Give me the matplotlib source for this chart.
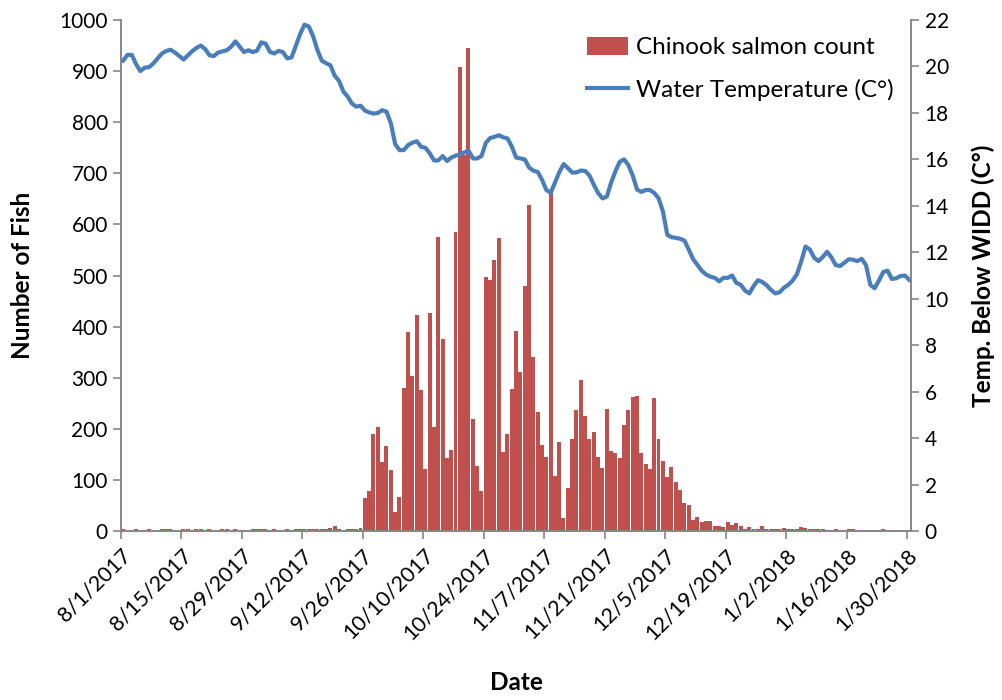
import matplotlib
matplotlib.use("Agg")
import matplotlib.pyplot as plt
import numpy as np

plt.rcParams['font.family'] = ['Lato', 'DejaVu Sans']

# daily counts, 8/1/2017 .. 1/30/2018
fish_count = [
    3, 0, 0, 3, 0, 0, 3, 0, 0, 3, 3, 3, 0, 0, 3, 3, 0, 3, 3, 0,
    3, 0, 0, 3, 3, 0, 3, 0, 0, 0, 3, 3, 3, 3, 0, 3, 0, 0, 3, 0,
    3, 3, 3, 3, 3, 3, 3, 4, 5, 10, 4, 0, 4, 4, 3, 6,
    65, 78, 190, 203, 136, 166, 119, 38, 67, 280, 389, 303, 423, 276,
    121, 427, 203, 575, 376, 142, 159, 585, 909, 736, 946, 220, 128, 78,
    498, 492, 530, 573, 155, 190, 277, 391, 312, 479, 638, 341, 233, 168,
    145, 661, 108, 175, 25, 85, 181, 237, 295, 226, 181, 194, 145, 124,
    239, 157, 153, 143, 207, 237, 262, 265, 153, 132, 121, 260, 180, 138,
    105, 126, 96, 80, 55, 50, 21, 27, 17, 19, 19, 9, 10, 8,
    17, 12, 16, 10, 4, 8, 4, 4, 10, 4, 3, 3, 3, 6,
    3, 3, 3, 7, 5, 3, 3, 4, 3, 2, 2, 3, 0, 0,
    3, 3, 0, 0, 0, 0, 0, 0, 3, 0, 0, 0, 0, 0, 0,
]

# daily water temperature (C)
water_temp = [
    20.25, 20.5, 20.5, 20.1, 19.8, 19.95, 19.97, 20.13, 20.35, 20.56,
    20.67, 20.72, 20.6, 20.45, 20.3, 20.48, 20.66, 20.8, 20.9, 20.75,
    20.48, 20.45, 20.6, 20.65, 20.7, 20.85, 21.08, 20.85, 20.62, 20.7,
    20.62, 20.68, 21.04, 20.98, 20.63, 20.56, 20.67, 20.62, 20.35, 20.39,
    20.9, 21.4, 21.8, 21.72, 21.3, 20.7, 20.25, 20.14, 20.05, 19.6,
    19.38, 18.92, 18.7, 18.4, 18.27, 18.31, 18.1, 18.02, 17.97, 18.0,
    18.12, 18.05, 17.55, 16.65, 16.4, 16.4, 16.62, 16.72, 16.78, 16.54,
    16.5, 16.26, 15.95, 15.96, 16.14, 15.93, 16.08, 16.16, 16.22, 16.3,
    16.37, 16.04, 16.04, 16.15, 16.72, 16.92, 16.97, 17.04, 16.95, 16.9,
    16.55, 16.08, 16.04, 16.0, 15.65, 15.51, 15.46, 15.12, 14.68, 14.56,
    15.0, 15.45, 15.8, 15.62, 15.43, 15.44, 15.52, 15.5, 15.3, 14.9,
    14.55, 14.32, 14.4, 15.0, 15.5, 15.9, 16.0, 15.75, 15.3, 14.7,
    14.6, 14.68, 14.68, 14.55, 14.32, 13.75, 12.75, 12.65, 12.62, 12.58,
    12.5, 12.1, 11.7, 11.45, 11.2, 11.04, 10.95, 10.9, 10.75, 10.9,
    10.9, 11.0, 10.68, 10.6, 10.35, 10.23, 10.55, 10.8, 10.72, 10.58,
    10.38, 10.23, 10.28, 10.47, 10.6, 10.78, 11.05, 11.6, 12.25, 12.12,
    11.77, 11.62, 11.8, 12.02, 11.78, 11.45, 11.41, 11.55, 11.7, 11.68,
    11.62, 11.72, 11.45, 10.6, 10.45, 10.78, 11.15, 11.21, 10.85, 10.88,
    10.98, 11.0, 10.82,
]

tick_labels = ['8/1/2017', '8/15/2017', '8/29/2017', '9/12/2017', '9/26/2017',
               '10/10/2017', '10/24/2017', '11/7/2017', '11/21/2017', '12/5/2017',
               '12/19/2017', '1/2/2018', '1/16/2018', '1/30/2018']

days = np.arange(len(fish_count))
axis_gray = '#868686'

fig = plt.figure(figsize=(10.03, 7.0), dpi=100)
ax = fig.add_axes([0.1206, 0.2414, 0.7880, 0.7300])
ax2 = ax.twinx()

bars = ax.bar(days, fish_count, width=0.92, align='edge', color='#C0504D',
              label='Chinook salmon count')
line, = ax2.plot(days + 0.5, water_temp, color='#4A7EBB', lw=3.0,
                 solid_joinstyle='round', label='Water Temperature (C°)')

ax.set_xlim(0, len(fish_count))
ax.set_ylim(0, 1000)
ax2.set_ylim(0, 22)
ax.set_yticks(np.arange(0, 1001, 100))
ax2.set_yticks(np.arange(0, 23, 2))
ax.set_xticks(np.arange(0, 14 * len(tick_labels), 14))
ax.set_xticklabels(tick_labels, rotation=45, ha='right', rotation_mode='anchor')

for a in (ax, ax2):
    a.spines['top'].set_visible(False)
    for s in ('left', 'right', 'bottom'):
        a.spines[s].set_color(axis_gray)
        a.spines[s].set_linewidth(1.2)
    a.tick_params(axis='both', colors=axis_gray, labelcolor='black',
                  labelsize=15, length=6, width=1.2, direction='out')
ax.tick_params(axis='x', labelsize=15.5, pad=4)

ax.set_ylabel('Number of Fish', fontsize=17.5, fontweight='bold', labelpad=18)
ax2.set_ylabel('Temp. Below WIDD (C°)', fontsize=17.5, fontweight='bold', labelpad=16)
ax.set_xlabel('Date', fontsize=17.5, fontweight='bold', labelpad=20)

ax2.legend([bars, line], [bars.get_label(), line.get_label()],
           loc='upper right', bbox_to_anchor=(1.005, 1.01), frameon=False,
           fontsize=17.5, handlelength=1.7, handleheight=0.75,
           handletextpad=0.3, labelspacing=0.85)

fig.savefig('out.png', dpi=100)
